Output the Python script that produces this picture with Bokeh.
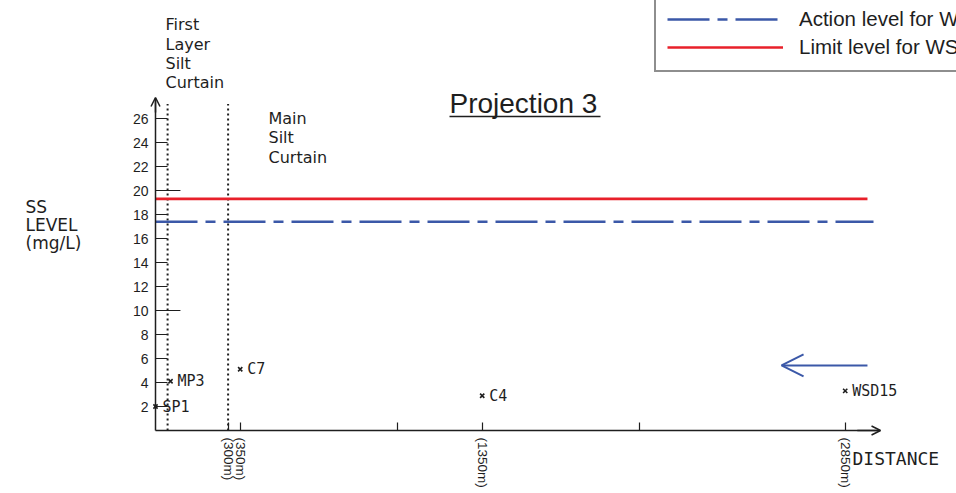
from bokeh.plotting import figure
from bokeh.models import (Range1d, Label, Arrow, OpenHead, FixedTicker,
                          Legend, LegendItem, ColumnDataSource)
from bokeh.core.properties import value
from bokeh.embed import file_html
from bokeh.resources import INLINE

# ---------------- data ----------------
station_names = ["SP1", "MP3", "C7", "C4", "WSD15"]
station_distance_m = [0, 62, 350, 1350, 2850]
station_ss_mgL = [2.0, 4.1, 5.1, 2.9, 3.3]

action_level_mgL = 17.4
limit_level_mgL = 19.3
level_line_end_m = [2967, 2942]          # action, limit

silt_curtain_m = [50, 300]               # first layer, main
silt_curtain_top = 27.2

x_tick_m = [300, 350, 1000, 1350, 2000, 2850]
x_tick_labels = ["(300m)", "(350m)", "", "(1350m)", "", "(2850m)"]
y_ticks = [2, 4, 6, 8, 10, 12, 14, 16, 18, 20, 22, 24, 26]
y_long_ticks = [10, 20]

flow_arrow_m = [2942, 2587]
flow_arrow_y = 5.42

# ---------------- layout ----------------
PX_PER_M = 0.242
PX_PER_SS = 12.0
W, H = 956, 493
X0_PX, Y0_PX = 155, 430          # canvas position of the origin
INK = "#1e1e1e"
BLUE = "#3b58a8"
RED = "#e8202a"


def mx(px):
    return (px - X0_PX) / PX_PER_M


def my(py):
    return (Y0_PX - py) / PX_PER_SS


p = figure(width=W, height=H, output_backend="svg", toolbar_location=None,
           x_range=Range1d(mx(0), mx(W)), y_range=Range1d(my(H), my(0)),
           min_border=0,
           background_fill_color="white", border_fill_color="white",
           outline_line_color=None)
p.grid.visible = False

# x axis
xa = p.xaxis[0]
xa.fixed_location = 0
xa.ticker = FixedTicker(ticks=x_tick_m)
xa.major_label_overrides = {t: l for t, l in zip(x_tick_m, x_tick_labels)}
xa.major_label_orientation = "vertical"
xa.major_label_standoff = 7
xa.major_tick_in = 8
xa.major_tick_out = 0
xa.minor_tick_line_color = None
xa.axis_line_width = 1.5
xa.axis_line_color = INK
xa.major_tick_line_color = INK
xa.major_tick_line_width = 1.2
xa.bounds = (0, 2990)
xa.major_label_text_font = "Liberation Sans"
xa.major_label_text_font_size = "13.5px"
xa.major_label_text_color = INK

# y axis
ya = p.yaxis[0]
ya.fixed_location = 0
ya.ticker = FixedTicker(ticks=y_ticks)
ya.major_tick_in = 12
ya.major_tick_out = 0
ya.minor_tick_line_color = None
ya.major_label_standoff = 7
ya.axis_line_width = 1.5
ya.axis_line_color = INK
ya.major_tick_line_color = INK
ya.major_tick_line_width = 1.2
ya.bounds = (0, 27.7)
ya.major_label_text_font = "Liberation Sans"
ya.major_label_text_font_size = "14px"
ya.major_label_text_color = INK

# longer ticks at 10 and 20
p.segment(x0=0, y0=y_long_ticks, x1=103, y1=y_long_ticks,
          line_color=INK, line_width=1.2)

# axis arrow heads
p.add_layout(Arrow(end=OpenHead(size=9, line_color=INK, line_width=1.5),
                   x_start=0, y_start=26.5, x_end=0, y_end=27.75,
                   line_color=INK, line_width=1.5))
p.add_layout(Arrow(end=OpenHead(size=9, line_color=INK, line_width=1.5),
                   x_start=2900, y_start=0, x_end=2996, y_end=0,
                   line_color=INK, line_width=1.5))

# silt curtains (dotted)
p.segment(x0=silt_curtain_m, y0=0, x1=silt_curtain_m, y1=silt_curtain_top,
          line_color=INK, line_width=2, line_dash="2 3")

# action / limit levels
action_r = p.line([0, level_line_end_m[0]], [action_level_mgL, action_level_mgL],
                  line_color=BLUE, line_width=2.6, line_dash="42 8 10 8")
limit_r = p.line([0, level_line_end_m[1]], [limit_level_mgL, limit_level_mgL],
                 line_color=RED, line_width=2.6)

# stations
src = ColumnDataSource(dict(x=station_distance_m, y=station_ss_mgL, name=station_names))
p.scatter("x", "y", source=src, marker="x", size=6, line_color=INK, line_width=1.6)
p.text("x", "y", text="name", source=src, x_offset=7, text_baseline="middle",
       text_font=value("DejaVu Sans Mono"), text_font_size="15px", text_color=INK)

# flow direction arrow
p.add_layout(Arrow(end=OpenHead(size=22, line_color=BLUE, line_width=2),
                   x_start=flow_arrow_m[0], y_start=flow_arrow_y,
                   x_end=flow_arrow_m[1], y_end=flow_arrow_y,
                   line_color=BLUE, line_width=2))


def add_text(txt, px, py, size, font="DejaVu Sans"):
    p.add_layout(Label(x=mx(px), y=my(py), text=txt, text_font=font,
                       text_font_size=size, text_color=INK,
                       text_baseline="middle", text_align="left"))


for t, c in zip(["First", "Layer", "Silt", "Curtain"], [24, 43.5, 62.5, 82]):
    add_text(t, 165, c, "16px")
for t, c in zip(["Main", "Silt", "Curtain"], [118, 137, 156.5]):
    add_text(t, 268, c, "16px")
for t, c in zip(["SS", "LEVEL", "(mg/L)"], [206, 224, 242]):
    add_text(t, 25, c, "17px")
add_text("DISTANCE", 852, 458, "18px", font="DejaVu Sans Mono")
add_text("Projection 3", 449, 102.5, "28px", font="Liberation Sans")
p.segment(x0=[mx(449)], y0=[my(116)], x1=[mx(600)], y1=[my(116)],
          line_color=INK, line_width=1.5)

# legend
legend = Legend(items=[LegendItem(label="Action level for WSD15", renderers=[action_r]),
                       LegendItem(label="Limit level for WSD15", renderers=[limit_r])],
                location=(654, H - 72), margin=0, padding=11,
                glyph_width=116, glyph_height=24, label_height=24,
                label_standoff=16, spacing=4,
                border_line_color=INK, border_line_width=2,
                background_fill_color="white", background_fill_alpha=1,
                label_text_font="Liberation Sans", label_text_font_size="20.5px",
                label_text_color=INK)
p.add_layout(legend)

open("out.html", "w").write(file_html(p, INLINE))
